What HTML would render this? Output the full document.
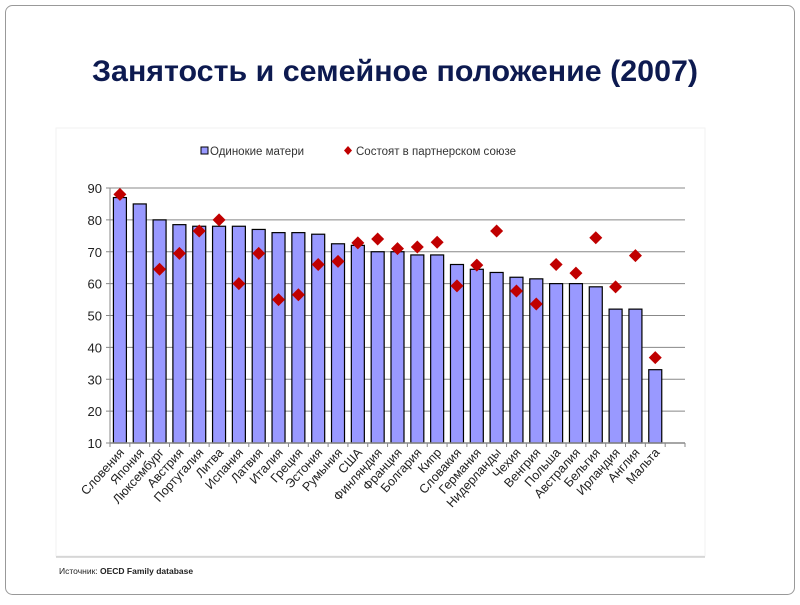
<!DOCTYPE html>
<html><head><meta charset="utf-8"><style>
body{margin:0;width:800px;height:600px;background:#fff;overflow:hidden}
</style></head><body>
<svg width="800" height="600" xmlns="http://www.w3.org/2000/svg" font-family="Liberation Sans, sans-serif">
<rect x="5.5" y="5.5" width="789" height="589" rx="7" fill="#fff" stroke="#999" stroke-width="1"/>
<text x="395" y="81" text-anchor="middle" font-size="30" font-weight="bold" fill="#0d1a50" textLength="606" lengthAdjust="spacingAndGlyphs">Занятость и семейное положение (2007)</text>
<rect x="56" y="128" width="649" height="428" fill="#fff" stroke="#f2f2f2"/>
<line x1="56" y1="557" x2="705" y2="557" stroke="#bbb" stroke-width="1"/>
<text x="59" y="574" font-size="8.5" fill="#222">Источник: <tspan font-weight="bold">OECD Family database</tspan></text>
<rect x="201" y="147" width="7" height="7" fill="#9999ff" stroke="#000" stroke-width="1"/>
<text x="210" y="155" font-size="11.5" fill="#333">Одинокие матери</text>
<path d="M348 146 L352 150.5 L348 155 L344 150.5Z" fill="#c00000"/>
<text x="356" y="155" font-size="11.5" fill="#333">Состоят в партнерском союзе</text>
<g id="chart"></g>
</svg>
<script>
const bars=[87,85,80,78.5,78,78,78,77,76,76,75.5,72.5,72,70,70,69,69,66,64.5,63.5,62,61.5,60,60,59,52,52,33];
const dia=[88,null,64.5,69.5,76.5,80,60,69.5,55,56.5,66,67,72.8,74,71,71.5,73,59.3,65.8,76.5,57.7,53.6,66,63.3,74.4,59,68.8,36.8];
const names=["Словения","Япония","Люксембург","Австрия","Португалия","Литва","Испания","Латвия","Италия","Греция","Эстония","Румыния","США","Финляндия","Франция","Болгария","Кипр","Словакия","Германия","Нидерланды","Чехия","Венгрия","Польша","Австралия","Бельгия","Ирландия","Англия","Мальта"];
const x0=110,x1=685,n=29,w=(x1-x0)/n;const Y=v=>443-(v-10)*255/80;
let s='';
for(let v=10;v<=90;v+=10){const y=Y(v);if(v>10)s+=`<line x1="${x0}" y1="${y}" x2="${x1}" y2="${y}" stroke="#888" stroke-width="1"/>`;s+=`<line x1="${x0-4}" y1="${y}" x2="${x0}" y2="${y}" stroke="#888"/><text x="${x0-8}" y="${y+5}" text-anchor="end" font-size="13" fill="#222">${v}</text>`;}
s+=`<line x1="${x0}" y1="${Y(90)}" x2="${x0}" y2="${Y(10)}" stroke="#888"/>`;
bars.forEach((v,i)=>{const c=x0+w*(i+0.5);s+=`<rect x="${c-6.5}" y="${Y(v)}" width="13" height="${Y(10)-Y(v)}" fill="#9999ff" stroke="#000" stroke-width="1.2"/>`;});
s+=`<line x1="${x0}" y1="${Y(10)}" x2="${x1}" y2="${Y(10)}" stroke="#888" stroke-width="1.5"/>`;
for(let i=0;i<=n;i++){const x=x0+w*i;s+=`<line x1="${x}" y1="${Y(10)}" x2="${x}" y2="${Y(10)+4}" stroke="#888"/>`;}
dia.forEach((v,i)=>{if(v==null)return;const c=x0+w*(i+0.5),y=Y(v);s+=`<path d="M${c} ${y-6.5} L${c+6.5} ${y} L${c} ${y+6.5} L${c-6.5} ${y}Z" fill="#c00000"/>`;});
names.forEach((t,i)=>{const c=x0+w*(i+0.5)+5;s+=`<text transform="translate(${c},453) rotate(-48)" text-anchor="end" font-size="12.5" fill="#222">${t}</text>`;});
document.getElementById('chart').innerHTML=s;
</script>
</body></html>
